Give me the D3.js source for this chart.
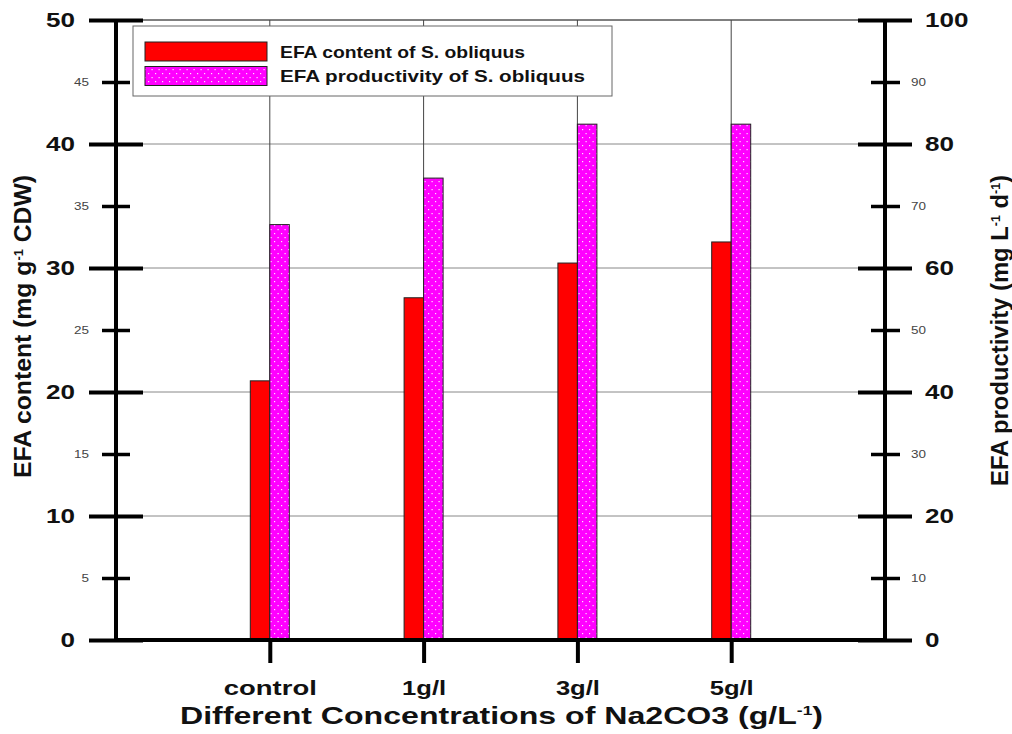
<!DOCTYPE html>
<html>
<head>
<meta charset="utf-8">
<script src="https://cdn.jsdelivr.net/npm/d3@7"></script>
<style>
  body { margin: 0; background: #fff; }
  text { font-family: "Liberation Sans", Arial, sans-serif; }
</style>
</head>
<body>
<script>
// data
var categories = ["control", "1g/l", "3g/l", "5g/l"];
var efaContent = [20.9, 27.6, 30.4, 32.1];        // mg g-1 CDW, left axis
var efaProductivity = [67.0, 74.5, 83.2, 83.2];   // mg L-1 d-1, right axis
var leftMajor = [0, 10, 20, 30, 40, 50];
var leftMinor = [5, 15, 25, 35, 45];
var rightMajor = [0, 20, 40, 60, 80, 100];
var rightMinor = [10, 30, 50, 70, 90];
var seriesNames = ["EFA content of S. obliquus", "EFA productivity of S. obliquus"];

var W = 1012, H = 734;
var svg = d3.select("body").append("svg").attr("width", W).attr("height", H);

var x = d3.scaleLinear().domain([0, categories.length + 1]).range([116, 885]);
var yL = d3.scaleLinear().domain([0, 50]).range([640, 20]);
var yR = d3.scaleLinear().domain([0, 100]).range([640, 20]);

var defs = svg.append("defs");
var pat = defs.append("pattern").attr("id", "dots")
  .attr("patternUnits", "userSpaceOnUse").attr("width", 7).attr("height", 8);
pat.append("rect").attr("width", 7).attr("height", 8).attr("fill", "#ff00ff");
pat.append("rect").attr("x", 1).attr("y", 1).attr("width", 1.2).attr("height", 1.2).attr("fill", "#ffe0ff");
pat.append("rect").attr("x", 4.5).attr("y", 5).attr("width", 1.2).attr("height", 1.2).attr("fill", "#ffe0ff");

// horizontal grid
svg.append("g").selectAll("line").data(leftMajor.filter(function(d) { return d > 0; }))
  .enter().append("line")
  .attr("x1", x(0)).attr("x2", x(5))
  .attr("y1", function(d) { return yL(d); }).attr("y2", function(d) { return yL(d); })
  .style("stroke", function(d) { return d === 50 ? "#000" : "#888"; })
  .style("stroke-width", 1);

// vertical grid through categories
svg.append("g").selectAll("line").data(categories)
  .enter().append("line")
  .attr("x1", function(d, i) { return x(i + 1); }).attr("x2", function(d, i) { return x(i + 1); })
  .attr("y1", yL(50)).attr("y2", yL(0))
  .style("stroke", "#444").style("stroke-width", 1);

// bars
var bw = 19.5;
svg.append("g").selectAll("rect").data(efaContent)
  .enter().append("rect")
  .attr("x", function(d, i) { return x(i + 1) - bw; })
  .attr("width", bw)
  .attr("y", function(d) { return yL(d); })
  .attr("height", function(d) { return yL(0) - yL(d); })
  .attr("fill", "#ff0000").attr("stroke", "#222").attr("stroke-width", 1);

svg.append("g").selectAll("rect").data(efaProductivity)
  .enter().append("rect")
  .attr("x", function(d, i) { return x(i + 1); })
  .attr("width", bw)
  .attr("y", function(d) { return yR(d); })
  .attr("height", function(d) { return yR(0) - yR(d); })
  .attr("fill", "url(#dots)").attr("stroke", "#222").attr("stroke-width", 1);

// the source picture is a bit stretched sideways, so texts get a fixed length
function styleAxis(g, w, fs, bold, col, perChar) {
  g.select(".domain").remove();
  g.selectAll(".tick line").style("stroke", "#000").style("stroke-width", w);
  g.selectAll(".tick text").style("font-size", fs + "px")
    .style("font-weight", bold ? "bold" : "normal").style("fill", col)
    .style("font-family", "'Liberation Sans', Arial, sans-serif")
    .attr("lengthAdjust", "spacingAndGlyphs")
    .attr("textLength", function() { return this.textContent.length * perChar; });
}

// left axis
svg.append("g").attr("transform", "translate(143,0)")
  .call(d3.axisLeft(yL).tickValues(leftMajor).tickSize(54).tickPadding(14))
  .call(styleAxis, 4, 21, true, "#111", 14.5);
svg.append("g").attr("transform", "translate(130,0)")
  .call(d3.axisLeft(yL).tickValues(leftMinor).tickSize(28).tickPadding(13))
  .call(styleAxis, 3.5, 11, false, "#444", 7.5);
svg.append("line").attr("x1", x(0)).attr("x2", x(0)).attr("y1", yL(50)).attr("y2", yL(0) + 2)
  .style("stroke", "#000").style("stroke-width", 4);

// right axis
svg.append("g").attr("transform", "translate(858,0)")
  .call(d3.axisRight(yR).tickValues(rightMajor).tickSize(54).tickPadding(13))
  .call(styleAxis, 4, 21, true, "#111", 14.5);
svg.append("g").attr("transform", "translate(871,0)")
  .call(d3.axisRight(yR).tickValues(rightMinor).tickSize(29).tickPadding(11))
  .call(styleAxis, 3.5, 11, false, "#444", 7.5);
svg.append("line").attr("x1", x(5)).attr("x2", x(5)).attr("y1", yR(100)).attr("y2", yR(0) + 2)
  .style("stroke", "#000").style("stroke-width", 4);

// bottom axis
var xAx = svg.append("g").attr("transform", "translate(0,640)")
  .call(d3.axisBottom(x).tickValues([1, 2, 3, 4]).tickSize(23).tickPadding(18)
    .tickFormat(function(d) { return categories[d - 1]; }))
  .call(styleAxis, 4, 20, true, "#111", 13.4);
xAx.selectAll(".tick text").attr("textLength", function() {
  return this.textContent === "control" ? 93 : 44;
});
svg.append("line").attr("x1", x(0)).attr("x2", x(5)).attr("y1", yL(0)).attr("y2", yL(0))
  .style("stroke", "#000").style("stroke-width", 4);

// axis titles
var xt = svg.append("text").attr("x", 180).attr("y", 724)
  .attr("textLength", 643).attr("lengthAdjust", "spacingAndGlyphs")
  .style("font-size", "24px").style("font-weight", "bold").style("fill", "#111");
xt.append("tspan").text("Different Concentrations of Na2CO3 (g/L");
xt.append("tspan").attr("dy", -9).style("font-size", "13px").text("-1");
xt.append("tspan").attr("dy", 9).text(")");

var lt = svg.append("text").attr("transform", "translate(31,478) rotate(-90)")
  .attr("textLength", 303).attr("lengthAdjust", "spacingAndGlyphs")
  .style("font-size", "23px").style("font-weight", "bold").style("fill", "#111");
lt.append("tspan").text("EFA content (mg g");
lt.append("tspan").attr("dy", -8).style("font-size", "12px").text("-1");
lt.append("tspan").attr("dy", 8).text(" CDW)");

var rt = svg.append("text").attr("transform", "translate(1008,486) rotate(-90)")
  .attr("textLength", 311).attr("lengthAdjust", "spacingAndGlyphs")
  .style("font-size", "23px").style("font-weight", "bold").style("fill", "#111");
rt.append("tspan").text("EFA productivity (mg L");
rt.append("tspan").attr("dy", -8).style("font-size", "12px").text("-1");
rt.append("tspan").attr("dy", 8).text(" d");
rt.append("tspan").attr("dy", -8).style("font-size", "12px").text("-1");
rt.append("tspan").attr("dy", 8).text(")");

// legend
var lg = svg.append("g");
lg.append("rect").attr("x", 133).attr("y", 26).attr("width", 479).attr("height", 70)
  .attr("fill", "#fff").attr("stroke", "#666").attr("stroke-width", 1);
var fills = ["#ff0000", "url(#dots)"];
var legLen = [245, 305];
seriesNames.forEach(function(name, i) {
  lg.append("rect").attr("x", 145).attr("y", 42 + i * 24.5).attr("width", 122).attr("height", 19)
    .attr("fill", fills[i]).attr("stroke", "#222").attr("stroke-width", 1);
  lg.append("text").attr("x", 280).attr("y", 58 + i * 24)
    .attr("textLength", legLen[i]).attr("lengthAdjust", "spacingAndGlyphs")
    .style("font-size", "17px").style("font-weight", "bold").style("fill", "#111").text(name);
});
</script>
</body>
</html>
